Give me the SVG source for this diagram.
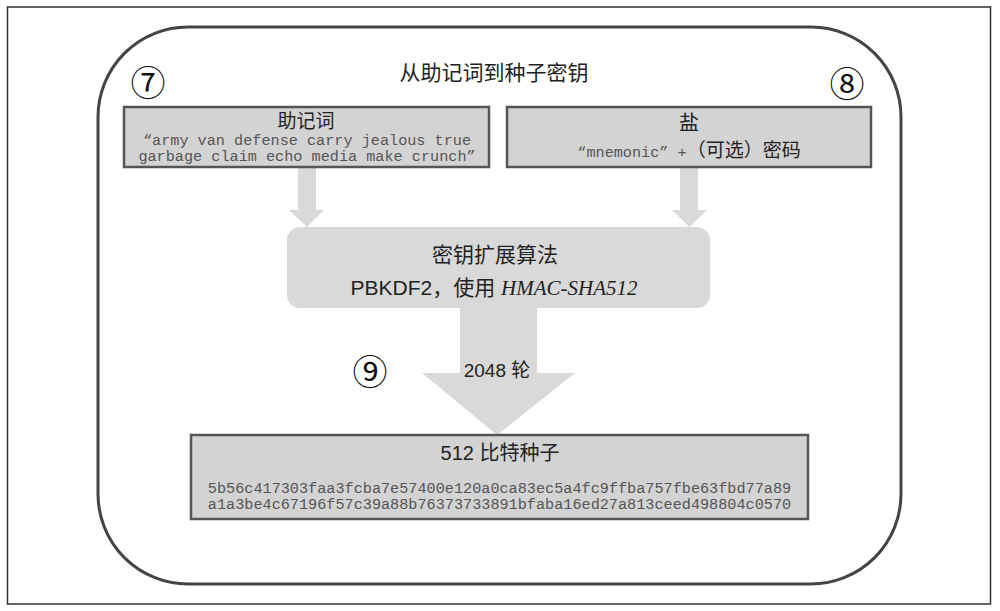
<svg xmlns="http://www.w3.org/2000/svg" width="1000" height="611" viewBox="0 0 1000 611">
<style>
.cjk{font-family:"Liberation Sans","Noto Sans CJK SC",sans-serif;fill:#222;}
.mono{font-family:"Liberation Mono","Noto Sans CJK SC",monospace;fill:#555;font-size:15.2px;}
.num{font-family:"Noto Sans CJK SC","DejaVu Sans",sans-serif;fill:#111;font-size:35px;}
.box{fill:#d3d3d3;stroke:#555;stroke-width:2.5;}
.arrow{fill:#d9d9d9;}
</style>
<rect x="7.5" y="7" width="983" height="597" fill="#fff" stroke="#333" stroke-width="1.5"/>
<rect x="98" y="27" width="803" height="557" rx="90" ry="90" fill="none" stroke="#444" stroke-width="3"/>
<text class="cjk" x="494" y="80" font-size="21" text-anchor="middle">从助记词到种子密钥</text>
<g id="connectors">
<polygon class="arrow" points="298,167 316,167 316,210 324,210 307,227 289,210 298,210"/>
<polygon class="arrow" points="680,167 698,167 698,210 707,210 689.5,227 672,210 680,210"/>
<polygon class="arrow" points="460,308 537,308 537,373 575,373 497,435 422,373 460,373"/>
<text class="cjk" x="497" y="377" font-size="19" text-anchor="middle">2048 轮</text>
</g>
<g id="label7"><text class="num" x="148" y="96" text-anchor="middle">⑦</text></g>
<g id="label8"><text class="num" x="847" y="97" text-anchor="middle">⑧</text></g>
<g id="label9"><text class="num" x="370" y="385" text-anchor="middle">⑨</text></g>
<g id="mnemonic">
<rect class="box" x="124" y="107" width="365" height="60"/>
<text class="cjk" x="306" y="128" font-size="19" text-anchor="middle">助记词</text>
<text class="mono" x="307" y="145" text-anchor="middle">“army van defense carry jealous true</text>
<text class="mono" x="307" y="161" text-anchor="middle">garbage claim echo media make crunch”</text>
</g>
<g id="salt">
<rect class="box" x="507" y="107" width="364" height="60"/>
<text class="cjk" x="689" y="130" font-size="20" text-anchor="middle">盐</text>
<text x="689" y="157" text-anchor="middle"><tspan class="mono">“mnemonic” +</tspan><tspan class="cjk" font-size="19">（可选）密码</tspan></text>
</g>
<g id="kdf">
<rect x="287" y="227" width="423" height="81" rx="13" ry="13" fill="#d9d9d9"/>
<text class="cjk" x="495" y="262" font-size="21" text-anchor="middle">密钥扩展算法</text>
<text class="cjk" x="494" y="295" font-size="21" text-anchor="middle">PBKDF2，使用 <tspan font-family="Liberation Serif,serif" font-style="italic">HMAC-SHA512</tspan></text>
</g>
<g id="seed">
<rect class="box" x="191" y="435" width="617" height="84"/>
<text class="cjk" x="500" y="460" font-size="20" text-anchor="middle">512 比特种子</text>
<text class="mono" x="499.5" y="493" text-anchor="middle">5b56c417303faa3fcba7e57400e120a0ca83ec5a4fc9ffba757fbe63fbd77a89</text>
<text class="mono" x="499.5" y="509" text-anchor="middle">a1a3be4c67196f57c39a88b76373733891bfaba16ed27a813ceed498804c0570</text>
</g>
</svg>
